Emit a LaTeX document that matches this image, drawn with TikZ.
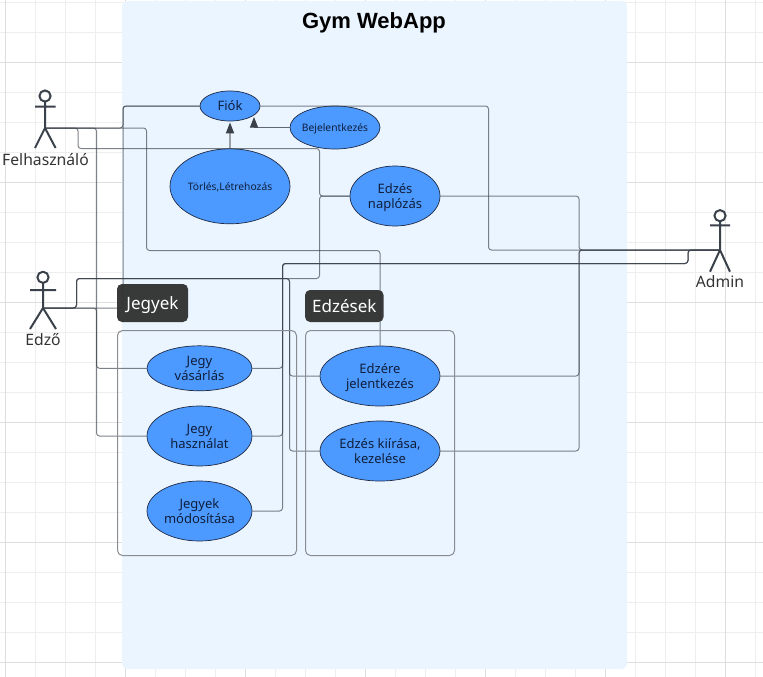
\documentclass[tikz,border=0pt]{standalone}
\usepackage{fontspec}
\setmainfont{Noto Sans}
\newfontfamily\titlefont{Liberation Sans}
\usetikzlibrary{shapes.geometric,arrows.meta}

\definecolor{panelbg}{HTML}{EBF5FF}
\definecolor{ovalblue}{HTML}{4C9AFF}
\definecolor{ovalline}{HTML}{1F2A44}
\definecolor{ovaltext}{HTML}{0F1E3C}
\definecolor{inkdark}{HTML}{3A414A}
\definecolor{tagdark}{HTML}{333333}
\definecolor{gridlight}{HTML}{EEEEEE}
\definecolor{gridstrong}{HTML}{DEDEDE}

\tikzset{
	usecase/.style={ellipse, draw=ovalline, fill=ovalblue, line width=0.7pt, inner sep=0pt,
		align=center, text=ovaltext, text depth=0pt, font=\fontsize{13}{15}\selectfont},
	smallcase/.style={usecase, inner sep=-5pt, font=\fontsize{10.3}{12}\selectfont},
	conn/.style={draw=inkdark, draw opacity=0.66, line width=1pt, rounded corners=3pt},
	genline/.style={draw=inkdark!50, line width=1.5pt,
		-{Triangle[length=11pt,width=8pt,color=inkdark]}},
	genthin/.style={draw=inkdark!80, line width=1pt,
		-{Triangle[length=10.5pt,width=8pt,color=inkdark]}},
	groupbox/.style={draw=inkdark!60, line width=1pt, rounded corners=5pt},
	tagbox/.style={fill=tagdark, fill opacity=0.97, text opacity=1, text=white, rounded corners=5pt,
		inner sep=0pt, text depth=0pt, font=\fontsize{17}{18}\selectfont},
	stick/.style={draw=inkdark, line width=2pt},
	actorname/.style={text=tagdark, inner sep=0pt, font=\fontsize{15.7}{17}\selectfont},
}

\begin{document}
\begin{tikzpicture}[x=1pt, y=-1pt, line join=round]
	\useasboundingbox (0,0) rectangle (763,677);
	
	% ----------------------------
	% 0) Grid behind everything
	% ----------------------------
	\foreach \gx in {5.5,35.5,...,755.5}{
		\draw[gridlight] (\gx,0) -- (\gx,677);
	}
	\foreach \gy in {2.5,32.5,...,662.5}{
		\draw[gridlight] (0,\gy) -- (763,\gy);
	}
	\foreach \gx in {5.5,125.5,...,725.5}{
		\draw[gridstrong] (\gx,0) -- (\gx,677);
	}
	\foreach \gy in {62.5,182.5,...,662.5}{
		\draw[gridstrong] (0,\gy) -- (763,\gy);
	}
	
	% ----------------------------
	% 1) System panel + title
	% ----------------------------
	\fill[panelbg, rounded corners=6pt] (122,1) rectangle (627,669);
	\node[font=\titlefont\bfseries\fontsize{22}{24}\selectfont, inner sep=0pt, text depth=0pt] (title) at (374,21) {Gym WebApp};
	
	% ----------------------------
	% 2) Actors (hip = where the lines start)
	% ----------------------------
	\coordinate (felh) at (45,128);
	\draw[stick] (45,96) circle (5.6);
	\draw[stick] (45,101.6) -- (felh) (35,106.7) -- (55.6,106.7) (35,148) -- (felh) -- (55.6,148);
	\node[actorname] (felhname) at (45.5,160) {Felhasználó};
	
	\coordinate (edzo) at (43,308);
	\draw[stick] (43,277.3) circle (5.6);
	\draw[stick] (43,282.9) -- (edzo) (30,290) -- (56,290) (30,329) -- (edzo) -- (56,329);
	\node[actorname] (edzoname) at (43,339.5) {Edző};
	
	\coordinate (admin) at (720,250);
	\draw[stick] (720,215.7) circle (5.6);
	\draw[stick] (720,221.3) -- (admin) (710,225.3) -- (730,225.3) (710,271.7) -- (admin) -- (730,271.7);
	\node[actorname] (adminname) at (720,282) {Admin};
	
	% ----------------------------
	% 3) Use cases
	% ----------------------------
	\node[usecase, minimum width=60pt, minimum height=30pt] (fiok) at (230,106) {Fiók};
	\node[smallcase, minimum width=90pt, minimum height=43pt] (bej) at (335,127.5) {Bejelentkezés};
	\node[smallcase, minimum width=120pt, minimum height=75pt] (torles) at (230,186.3) {Törlés,Létrehozás};
	\node[usecase, minimum width=90pt, minimum height=60pt] (naplo) at (395,196) {Edzés\\naplózás};
	
	\node[usecase, minimum width=105pt, minimum height=45pt] (vasar) at (199.5,368.3) {Jegy\\vásárlás};
	\node[usecase, minimum width=105pt, minimum height=60pt] (hasz) at (199.5,436) {Jegy\\használat};
	\node[usecase, minimum width=105pt, minimum height=60pt] (modos) at (199.5,511) {Jegyek\\módosítása};
	
	\node[usecase, minimum width=120pt, minimum height=60pt] (jelent) at (380,376) {Edzére\\jelentkezés};
	\node[usecase, minimum width=120pt, minimum height=60pt] (kiiras) at (380,451) {Edzés kiírása,\\kezelése};
	
	% ----------------------------
	% 4) Felhasználó lines
	% ----------------------------
	\draw[conn] (felh) -- (123,128) |- (fiok.west);
	\draw[conn] (felh) -- (78,128) |- (319.5,148.5) |- (naplo.west);
	\draw[conn] (felh) -- (146.5,128) |- (380,250.5) -- (jelent.north);
	\draw[conn] (felh) -- (96.5,128) |- (vasar.west);
	
	% ----------------------------
	% 5) Edző lines
	% ----------------------------
	\draw[conn] (edzo) -- (123,308) |- (fiok.west);
	\draw[conn] (edzo) -- (96.5,308) |- (hasz.west);
	\draw[conn] (edzo) -- (76.5,308) |- (319.5,278.5) |- (naplo.west);
	\draw[conn] (edzo) -- (76.5,308) |- (289.5,278.5) |- (jelent.west);
	\draw[conn] (edzo) -- (76.5,308) |- (289.5,278.5) |- (kiiras.west);
	
	% ----------------------------
	% 6) Admin lines
	% ----------------------------
	\draw[conn] (admin) -- (488.5,250) |- (fiok.east);
	\draw[conn] (admin) -- (579,250) |- (naplo.east);
	\draw[conn] (admin) -- (579,250) |- (jelent.east);
	\draw[conn] (admin) -- (579,250) |- (kiiras.east);
	\draw[conn] (admin) -- (688,250) |- (282.5,263.5) |- (vasar.east);
	\draw[conn] (admin) -- (688,250) |- (282.5,263.5) |- (hasz.east);
	\draw[conn] (admin) -- (688,250) |- (282.5,263.5) |- (modos.east);
	
	% ----------------------------
	% 7) Generalisation arrows
	% ----------------------------
	\coordinate (bejtip) at (254,117);
	\draw[genline, shorten >=1pt] (torles.north) -- (fiok.south);
	\draw[genthin] (bej.west) -| (bejtip);
	
	% ----------------------------
	% 8) Group boxes + tags
	% ----------------------------
	\draw[groupbox] (117.5,330.5) rectangle (296.5,555.5);
	\draw[groupbox] (305.5,330.5) rectangle (454.5,555.5);
	
	\node[tagbox, minimum width=71pt, minimum height=38pt] (jegyek) at (152.5,303) {Jegyek};
	\node[tagbox, minimum width=78.5pt, minimum height=32pt] (edzesek) at (344.3,306) {Edzések};
	
\end{tikzpicture}
\end{document}
